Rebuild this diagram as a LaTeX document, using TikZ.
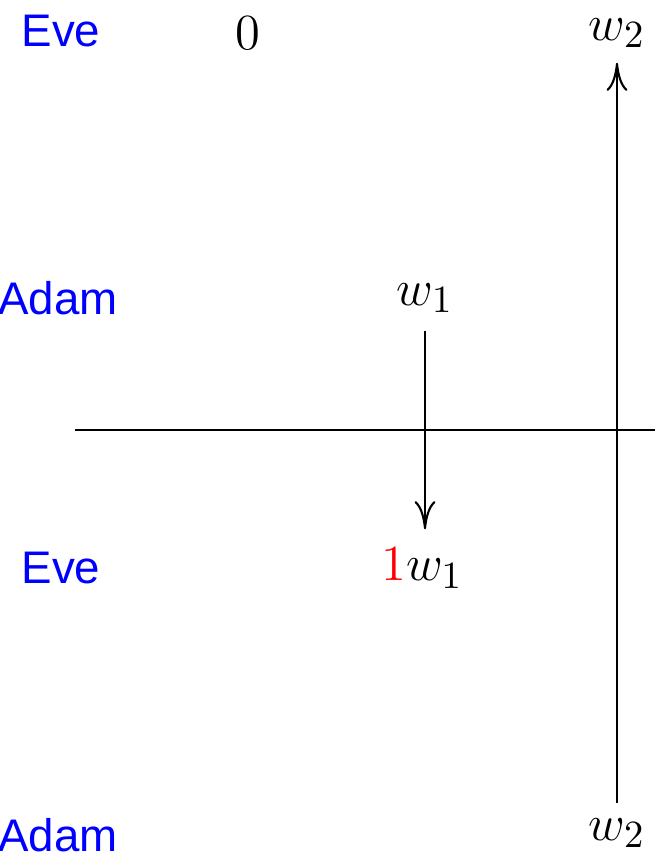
\documentclass[tikz,border=0pt]{standalone}
\usepackage{fontspec}
\setsansfont{Liberation Sans}
\usepackage{tikz}
\usetikzlibrary{arrows.meta,positioning}
\definecolor{PlayerBlue}{HTML}{0000FF}
\definecolor{PayRed}{HTML}{FF0000}
\tikzset{
  player/.style={font=\fontsize{13}{15}\selectfont\sffamily,text=PlayerBlue,inner sep=1pt},
  pay/.style={font=\fontsize{15.5}{18}\selectfont,inner sep=1pt},
  move/.style={-{To[length=8pt,width=6pt]},line width=0.6pt,shorten >=4pt,shorten <=4pt},
}
\begin{document}
\begin{tikzpicture}[x=1cm,y=1cm,line width=0.6pt]
\useasboundingbox (0,0) rectangle (6.55,8.6);
% players
\node[player] (eveA) at (0.61,8.29) {Eve};
\node[player] (adamA) at (0.58,5.62) {Adam};
\node[player] (eveB) at (0.61,2.92) {Eve};
\node[player] (adamB) at (0.58,0.25) {Adam};
% positions
\node[pay] (zero) at (2.48,8.27) {$0$};
\node[pay] (wtwoT) at (6.17,8.27) {$w_2$};
\node[pay] (wone) at (4.25,5.62) {$w_1$};
\node[pay] (onewone) at (4.22,2.92) {$\textcolor{PayRed}{1}w_1$};
\node[pay] (wtwoB) at (6.17,0.27) {$w_2$};
% axis
\coordinate (left) at (0.75,4.30);
\coordinate (right) at (6.55,4.30);
\draw (left) -- (right);
% moves
\draw[move] (wone) -- (onewone.north -| wone);
\draw[move,shorten >=3pt,shorten <=3pt] (wtwoB) -- (wtwoT);
\end{tikzpicture}
\end{document}
